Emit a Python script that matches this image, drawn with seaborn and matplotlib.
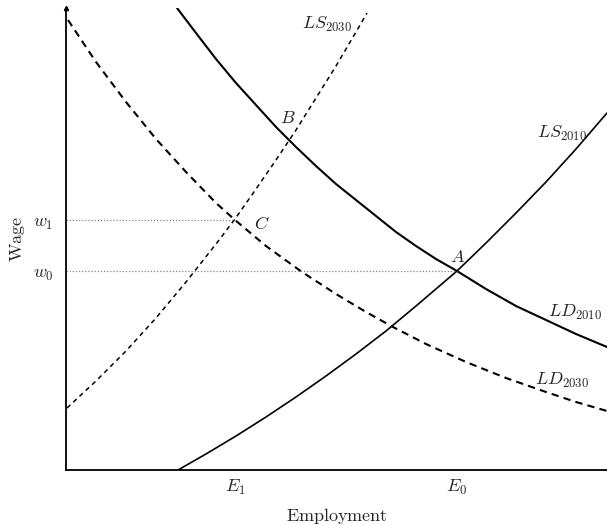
import matplotlib
matplotlib.use("Agg")
import matplotlib.pyplot as plt
import seaborn as sns

# curve values (employment, wage in arbitrary units)
ld2010_x = [111, 130, 150, 170, 190, 210, 230, 250, 270, 290, 310,
            330, 350, 370, 391, 420, 450, 480, 510, 541]
ld2010_y = [462, 437, 411, 387, 365, 343, 323, 304, 286, 270, 254,
            238, 224, 211, 199, 181, 164, 150, 136, 123]

ld2030_x = [2, 30, 60, 90, 120, 150, 169, 200, 236, 270, 300, 327,
            360, 400, 440, 480, 510, 541]
ld2030_y = [450, 408, 368, 331, 298, 267, 250, 224, 198, 176, 158, 143,
            126, 108, 92, 78, 68, 59]

ls2010_x = [112, 140, 170, 200, 230, 260, 290, 320, 350, 391, 420,
            450, 480, 510, 541]
ls2010_y = [0, 16, 34, 53, 73, 94, 116, 139, 164, 199, 227,
            257, 288, 321, 357]

ls2030_x = [1, 30, 60, 90, 120, 150, 169, 190, 210, 230, 250, 270, 290, 301]
ls2030_y = [62, 89, 119, 152, 188, 226, 251, 281, 310, 340, 372, 404, 438, 457]

employment_ticks = [169, 391]
employment_labels = ["$E_1$", "$E_0$"]
wage_ticks = [199, 250]
wage_labels = ["$w_0$", "$w_1$"]

# equilibrium points: A (2010), B, C (2030)
points = {"A": (391, 199), "B": (222, 328), "C": (169, 250)}

X_MAX, Y_MAX = 541, 462

sns.set_style("white")
plt.rcParams["mathtext.fontset"] = "cm"

fig = plt.figure(figsize=(6.07, 5.25), dpi=100)
ax = fig.add_axes([66 / 607, 55 / 525, 541 / 607, 462 / 525])

sns.lineplot(x=ld2010_x, y=ld2010_y, color="black", linewidth=1.5, ax=ax)
sns.lineplot(x=ls2010_x, y=ls2010_y, color="black", linewidth=1.2, ax=ax)
sns.lineplot(x=ld2030_x, y=ld2030_y, color="black", linewidth=1.5,
             linestyle=(0, (3.5, 2.5)), ax=ax)
sns.lineplot(x=ls2030_x, y=ls2030_y, color="black", linewidth=1.1,
             linestyle=(0, (3, 2.6)), ax=ax)

# dotted guide lines from the wage axis to the equilibria
ax.plot([0, points["C"][0]], [wage_ticks[1]] * 2, color="#888888",
        linewidth=0.9, linestyle=(0, (1, 1.5)))
ax.plot([0, points["A"][0]], [wage_ticks[0]] * 2, color="#888888",
        linewidth=0.9, linestyle=(0, (1, 1.5)))

ax.set_xlim(0, X_MAX)
ax.set_ylim(0, Y_MAX)

ax.set_xticks(employment_ticks)
ax.set_xticklabels(employment_labels, fontsize=13)
ax.set_yticks(wage_ticks)
ax.set_yticklabels(wage_labels, fontsize=13)
ax.tick_params(axis="x", direction="in", length=4, width=0.8, pad=6)
ax.tick_params(axis="y", direction="out", length=3, width=0.8, pad=6)

ax.set_xlabel(r"$\mathrm{Employment}$", fontsize=13, labelpad=6)
ax.set_ylabel(r"$\mathrm{Wage}$", fontsize=13, labelpad=4)

sns.despine(ax=ax)
for side in ["left", "bottom"]:
    ax.spines[side].set_color("black")
    ax.spines[side].set_linewidth(1.3)

# small arrow head at the top of the wage axis
ax.plot(0, 1, marker="^", color="black", markersize=3,
        transform=ax.transAxes, clip_on=False)

# curve labels
ax.text(261, 446, "$LS_{2030}$", fontsize=13, ha="center", va="center")
ax.text(496, 337, "$LS_{2010}$", fontsize=13, ha="center", va="center")
ax.text(509, 158, "$LD_{2010}$", fontsize=13, ha="center", va="center")
ax.text(496, 90, "$LD_{2030}$", fontsize=13, ha="center", va="center")

# point labels
ax.text(392, 213, "$A$", fontsize=13, ha="center", va="center")
ax.text(222, 352, "$B$", fontsize=13, ha="center", va="center")
ax.text(196, 246, "$C$", fontsize=13, ha="center", va="center")

fig.savefig("out.png", dpi=100)
plt.close(fig)
